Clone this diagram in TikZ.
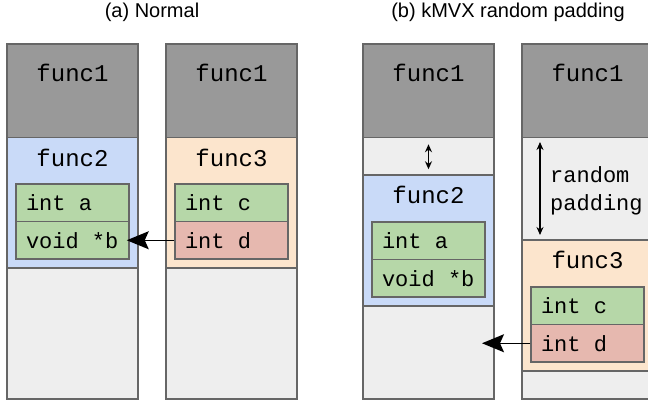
\documentclass[tikz,border=0pt]{standalone}
\usepackage{fontspec}
\setmainfont{Liberation Sans}
\setmonofont{Liberation Mono}
\usetikzlibrary{arrows.meta}
\definecolor{linegray}{HTML}{666666}
\definecolor{topgray}{HTML}{999999}
\definecolor{emptygray}{HTML}{EEEEEE}
\definecolor{framblue}{HTML}{C9DAF8}
\definecolor{framorange}{HTML}{FCE5CD}
\definecolor{vargreen}{HTML}{B6D7A8}
\definecolor{varred}{HTML}{E6B8AF}
\newcommand\codefont{\ttfamily\fontsize{22}{28}\selectfont}
\newcommand\funcfont{\ttfamily\fontsize{24}{28}\selectfont}

\begin{document}
\begin{tikzpicture}[x=1pt,y=-1pt,
    region/.style={draw=linegray,line width=1.5pt,inner sep=0pt,minimum width=131pt},
    varbox/.style={draw=linegray,line width=1.5pt,inner xsep=10pt,inner ysep=0pt,
      text width=93pt,minimum height=37.5pt,align=left,font=\codefont,
      execute at begin node={\spaceskip=0.6em\relax\xspaceskip=0.6em\relax}},
    funclbl/.style={font=\funcfont,inner sep=0pt},
    ptr/.style={-{Stealth[length=22pt,width=18pt,inset=4pt]},line width=1.5pt},
    gap/.style={{Stealth[length=8pt,width=7pt]}-{Stealth[length=8pt,width=7pt]},line width=1.5pt}]
  \useasboundingbox (0,0) rectangle (648,402);
  \node[font=\fontsize{20}{24}\selectfont] (titlea) at (152,12) {(a) Normal};
  \node[font=\fontsize{20}{24}\selectfont] (titleb) at (508,12) {(b) kMVX random padding};
  % (a) normal stacks
  \node[region,fill=topgray,minimum height=93.5pt] (afuncone) at (72.5,90.75) {};
  \node[region,fill=framblue,minimum height=130.5pt] (afunctwo) at (72.5,202.75) {};
  \node[region,fill=emptygray,minimum height=131pt] (aempty) at (72.5,333.5) {};
  \node[region,fill=topgray,minimum height=93.5pt] (cfuncone) at (231.5,90.75) {};
  \node[region,fill=framorange,minimum height=130.5pt] (cfuncthree) at (231.5,202.75) {};
  \node[region,fill=emptygray,minimum height=131pt] (cempty) at (231.5,333.5) {};
  \node[funclbl] (afunconelbl) at (72.5,73) {func1};
  \node[funclbl] (afunctwolbl) at (72.5,158) {func2};
  \node[funclbl] (cfunconelbl) at (231.5,73) {func1};
  \node[funclbl] (cfuncthreelbl) at (231.5,158) {func3};
  \node[varbox,fill=vargreen] (ainta) at (72.5,202.75) {int a};
  \node[varbox,fill=vargreen] (avoidb) at (72.5,240.25) {void *b};
  \node[varbox,fill=vargreen] (cintc) at (231.5,202.75) {int c};
  \node[varbox,fill=varred] (cintd) at (231.5,240.25) {int d};
  \draw[ptr,shorten >=-3pt] (cintd.west) -- (avoidb.east);
  % (b) randomly padded stacks
  \node[region,fill=topgray,minimum height=93.5pt] (bfuncone) at (428.5,90.75) {};
  \node[region,fill=emptygray,minimum height=37.5pt] (bpad) at (428.5,156.25) {};
  \node[region,fill=framblue,minimum height=131pt] (bfunctwo) at (428.5,240.5) {};
  \node[region,fill=emptygray,minimum height=93pt] (bempty) at (428.5,352.5) {};
  \node[region,fill=topgray,minimum height=93.5pt] (dfuncone) at (587.5,90.75) {};
  \node[region,fill=emptygray,minimum height=102.5pt] (dpad) at (587.5,188.75) {};
  \node[region,fill=framorange,minimum height=131pt] (dfuncthree) at (587.5,305.5) {};
  \node[region,fill=emptygray,minimum height=28pt] (dempty) at (587.5,385) {};
  \node[funclbl] (bfunconelbl) at (428.5,73) {func1};
  \node[funclbl] (bfunctwolbl) at (428.5,195) {func2};
  \node[funclbl] (dfunconelbl) at (587.5,73) {func1};
  \node[funclbl] (dfuncthreelbl) at (587.5,260) {func3};
  \node[varbox,fill=vargreen] (binta) at (428.5,240.75) {int a};
  \node[varbox,fill=vargreen] (bvoidb) at (428.5,278.25) {void *b};
  \node[varbox,fill=vargreen] (dintc) at (587.5,305.75) {int c};
  \node[varbox,fill=varred] (dintd) at (587.5,343.25) {int d};
  \node[font=\codefont,inner sep=0pt,align=left,anchor=west] (padlbl) at (550,191) {random\\padding};
  \coordinate (padtop) at (540,142);
  \coordinate (padbot) at (540,235);
  \coordinate (dangle) at (482,343.25);
  \draw[gap,shorten <=6pt,shorten >=5pt] (bfuncone) -- (bfunctwo);
  \draw[gap] (padtop) -- (padbot);
  \draw[ptr] (dintd.west) -- (dangle);
\end{tikzpicture}
\end{document}
